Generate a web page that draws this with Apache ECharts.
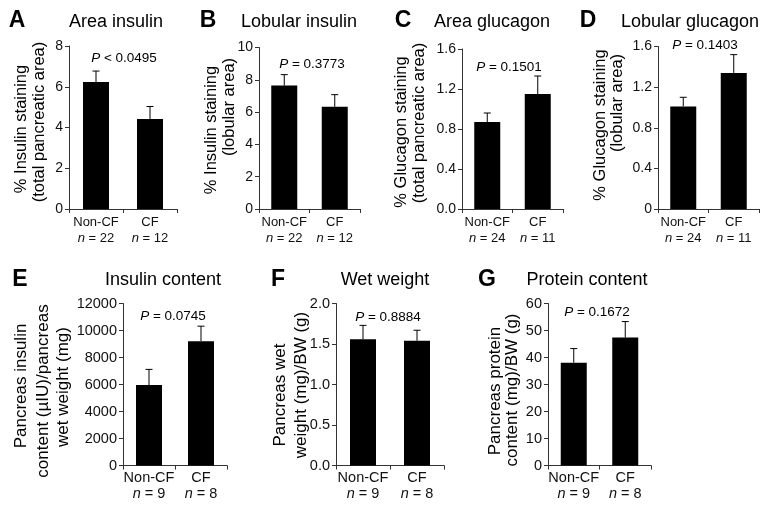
<!DOCTYPE html>
<html>
<head>
<meta charset="utf-8">
<script src="https://cdn.jsdelivr.net/npm/echarts@6/dist/echarts.min.js"></script>
<style>html,body{margin:0;padding:0;background:#fff}#c{width:771px;height:509px}</style>
</head>
<body>
<div id="c"></div>
<script>
// ---- data ----
const categories = ['Non-CF', 'CF'];
const panelLetters = ['A', 'B', 'C', 'D', 'E', 'F', 'G'];
const panelTitles = ['Area insulin', 'Lobular insulin', 'Area glucagon', 'Lobular glucagon', 'Insulin content', 'Wet weight', 'Protein content'];
const pValues = ['P < 0.0495', 'P = 0.3773', 'P = 0.1501', 'P = 0.1403', 'P = 0.0745', 'P = 0.8884', 'P = 0.1672'];
const nA = [22, 12], nB = [22, 12], nC = [24, 11], nD = [24, 11], nE = [9, 8], nF = [9, 8], nG = [9, 8];
const meanA = [6.23, 4.42], errTopA = [6.77, 5.03];
const meanB = [7.64, 6.33], errTopB = [8.32, 7.08];
const meanC = [0.87, 1.15], errTopC = [0.96, 1.33];
const meanD = [1.01, 1.34], errTopD = [1.10, 1.52];
const meanE = [5960, 9210], errTopE = [7120, 10320];
const meanF = [1.56, 1.54], errTopF = [1.73, 1.67];
const meanG = [38.1, 47.4], errTopG = [43.3, 53.3];
const yMax = [8, 10, 1.6, 1.6, 12000, 2.0, 60];
const yInterval = [2, 2, 0.4, 0.4, 2000, 0.5, 10];
const yLabelLines = [
  ['% Insulin staining', '(total pancreatic area)'],
  ['% Insulin staining', '(lobular area)'],
  ['% Glucagon staining', '(total pancreatic area)'],
  ['% Glucagon staining', '(lobular area)'],
  ['Pancreas insulin', 'content (\u00b5IU)/pancreas', 'wet weight (mg)'],
  ['Pancreas wet', 'weight (mg)/BW (g)'],
  ['Pancreas protein', 'content (mg)/BW (g)']
];

const means = [meanA, meanB, meanC, meanD, meanE, meanF, meanG];
const errTops = [errTopA, errTopB, errTopC, errTopD, errTopE, errTopF, errTopG];
const ns = [nA, nB, nC, nD, nE, nF, nG];

// ---- layout (pixels) ----
const grids = [
  {left: 69, right: 177, top: 46, bottom: 209},
  {left: 259, right: 360, top: 47.5, bottom: 209},
  {left: 462, right: 563, top: 49, bottom: 209},
  {left: 658, right: 759, top: 46.5, bottom: 209},
  {left: 123, right: 227, top: 303.5, bottom: 465.5},
  {left: 336, right: 444, top: 303.5, bottom: 465.5},
  {left: 548, right: 651, top: 303.5, bottom: 465.5}
];
const letterPos = [[17, 21], [208, 21], [403, 21], [588, 21], [20, 280], [278, 280], [487, 280]];
const titlePos = [[116, 22], [299, 22], [492, 22], [690, 22], [163, 280], [385, 280], [587, 280]];
const pPos = [[124, 58], [312, 64], [509, 67], [705, 45], [173, 316], [388, 317], [597, 312]];
const yLabPos = [
  [[21.5, 129], [39, 122]],
  [[211.5, 130], [229, 107]],
  [[401.5, 132], [419, 123]],
  [[600, 125], [617, 103]],
  [[21.5, 386], [43, 391], [63.5, 387]],
  [[280, 395], [301.5, 385]],
  [[495, 391], [512, 390]]
];

const FONT = 'Liberation Sans, Arial, Helvetica, sans-serif';
const grid = [], xAxis = [], yAxis = [], series = [], graphic = [];

for (let i = 0; i < 7; i++) {
  const g = grids[i];
  const top = i < 4;
  grid.push({left: g.left, top: g.top, width: g.right - g.left, height: g.bottom - g.top, containLabel: false});
  const nn = ns[i];
  const cfs = top ? 13 : 14.5, clh = top ? 16 : 15.5;
  xAxis.push({
    type: 'category', gridIndex: i, data: categories,
    axisLine: {show: true, lineStyle: {color: '#333', width: 1}},
    axisTick: {show: true, length: 4, lineStyle: {color: '#333'}},
    axisLabel: {
      interval: 0, hideOverlap: false, align: 'center',
      margin: 5, color: '#111', fontFamily: FONT,
      fontSize: cfs, lineHeight: clh,
      formatter: function (v, idx) { return '{a|' + v + '}\n{i|n}{a| = ' + nn[idx] + '}'; },
      rich: {
        a: {fontFamily: FONT, fontSize: cfs, lineHeight: clh, color: '#111'},
        i: {fontStyle: 'italic', fontFamily: FONT, fontSize: cfs, lineHeight: clh, color: '#111'}
      }
    }
  });
  const dec = (i === 2 || i === 5) ? 1 : 0;
  yAxis.push({
    type: 'value', gridIndex: i, min: 0, max: yMax[i], interval: yInterval[i],
    axisLine: {show: true, lineStyle: {color: '#333', width: 1}},
    axisTick: {show: true, length: 4, lineStyle: {color: '#333'}},
    splitLine: {show: false},
    axisLabel: {
      margin: 6, color: '#111', fontFamily: FONT, fontSize: top ? 14 : 14.5,
      formatter: function (v) {
        if (i === 3) return v === 0 ? '0' : v.toFixed(1);
        return dec ? v.toFixed(dec) : String(Math.round(v));
      }
    }
  });
  series.push({
    type: 'bar', xAxisIndex: i, yAxisIndex: i, data: means[i], barWidth: 26,
    itemStyle: {color: '#000'}, silent: true
  });
  series.push({
    type: 'custom', xAxisIndex: i, yAxisIndex: i, silent: true,
    data: means[i].map((m, k) => [k, m, errTops[i][k]]),
    renderItem: function (params, api) {
      const p0 = api.coord([api.value(0), api.value(1)]);
      const p1 = api.coord([api.value(0), api.value(2)]);
      const st = {stroke: '#000', lineWidth: 1};
      return {type: 'group', children: [
        {type: 'line', shape: {x1: p0[0], y1: p0[1], x2: p1[0], y2: p1[1]}, style: st},
        {type: 'line', shape: {x1: p1[0] - 3.5, y1: p1[1], x2: p1[0] + 3.5, y2: p1[1]}, style: st}
      ]};
    }
  });
  graphic.push({type: 'text', x: letterPos[i][0], y: letterPos[i][1], style: {
    text: panelLetters[i], fontFamily: FONT, fontSize: 23, fontWeight: 'bold', fill: '#000', align: 'center', verticalAlign: 'middle'}});
  graphic.push({type: 'text', x: titlePos[i][0], y: titlePos[i][1], style: {
    text: panelTitles[i], fontFamily: FONT, fontSize: 18, fill: '#000', align: 'center', verticalAlign: 'middle'}});
  const pv = pValues[i];
  graphic.push({type: 'text', x: pPos[i][0], y: pPos[i][1], style: {
    text: '{i|P}' + pv.slice(1), fontFamily: FONT, fontSize: 13.5, fill: '#000', align: 'center', verticalAlign: 'middle',
    rich: {i: {fontStyle: 'italic', fontFamily: FONT, fontSize: 13.5, fill: '#000'}}}});
  yLabelLines[i].forEach((line, k) => {
    graphic.push({type: 'text', x: yLabPos[i][k][0], y: yLabPos[i][k][1], rotation: Math.PI / 2, style: {
      text: line, fontFamily: FONT, fontSize: top ? 16.5 : 17, fill: '#000', align: 'center', verticalAlign: 'middle'}});
  });
}

const chart = echarts.init(document.getElementById('c'), null, {renderer: 'canvas'});
chart.setOption({animation: false, backgroundColor: '#fff', grid, xAxis, yAxis, series, graphic});
</script>
</body>
</html>
